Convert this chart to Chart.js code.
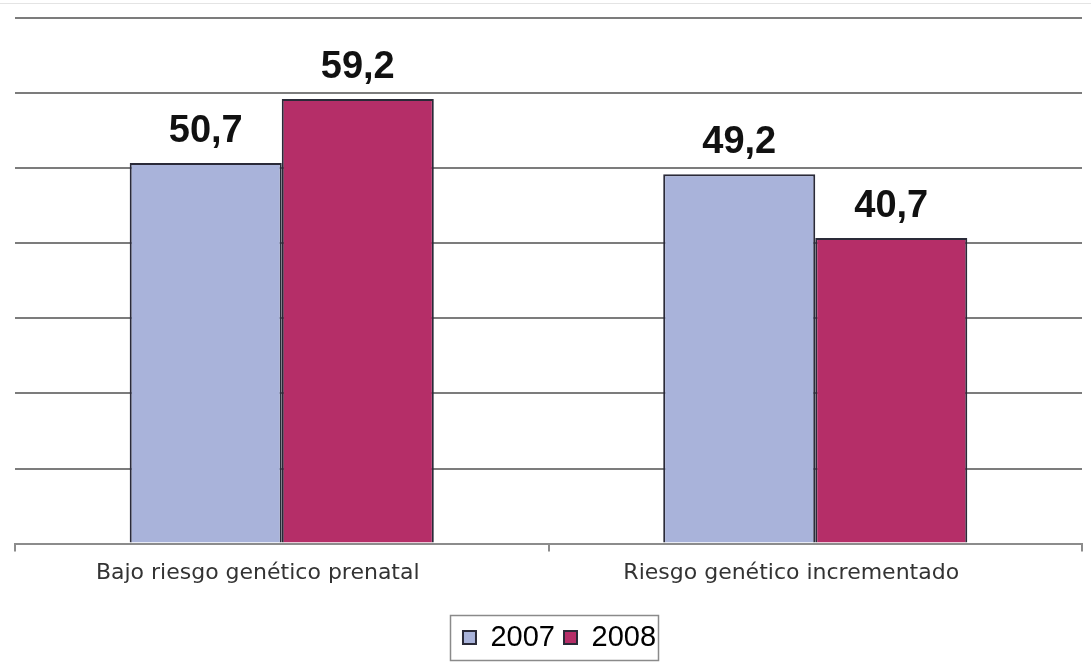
<!DOCTYPE html>
<html>
<head>
<meta charset="utf-8">
<script src="https://cdn.jsdelivr.net/npm/chart.js@4/dist/chart.umd.min.js"></script>
<style>
  html, body { margin: 0; padding: 0; background: #fff; }
  #wrap { position: relative; width: 1091px; height: 662px; }
  #topline { position: absolute; left: 0; top: 3px; width: 1091px; height: 1px; background: #e4e4e4; }
  canvas { display: block; }
</style>
</head>
<body>
<div id="wrap">
  <div id="topline"></div>
  <canvas id="chart" width="1091" height="662"></canvas>
</div>
<script>
// Categories and yearly values
const categories = ['Bajo riesgo genético prenatal', 'Riesgo genético incrementado'];
const years = ['2007', '2008'];
const values2007 = [50.7, 49.2];
const values2008 = [59.2, 40.7];
const yTicks = [0, 10, 20, 30, 40, 50, 60, 70];

const fillColors = ['#a9b3da', '#b52e68'];

// Writes each bar's value above it, with a decimal comma
const valueLabels = {
  id: 'valueLabels',
  afterDatasetsDraw(chart) {
    const ctx = chart.ctx;
    ctx.save();
    ctx.font = 'bold 38px "Liberation Sans", Arial, sans-serif';
    ctx.fillStyle = '#111';
    ctx.textAlign = 'center';
    ctx.textBaseline = 'alphabetic';
    chart.data.datasets.forEach((ds, i) => {
      chart.getDatasetMeta(i).data.forEach((bar, j) => {
        const txt = ds.data[j].toFixed(1).replace('.', ',');
        ctx.fillText(txt, bar.x, bar.y - 21);
      });
    });
    ctx.restore();
  }
};

// Nudges the legend a little to the right and frames it
const legendFrame = {
  id: 'legendFrame',
  afterLayout(chart) {
    const lg = chart.legend;
    if (!lg) return;
    lg.left += 11;
    lg.right += 11;
  },
  afterDraw(chart) {
    const lg = chart.legend;
    if (!lg || !lg.legendHitBoxes.length) return;
    const boxes = lg.legendHitBoxes;
    const x0 = boxes[0].left - 13;
    const last = boxes[boxes.length - 1];
    const x1 = last.left + last.width + 2;
    const y0 = boxes[0].top - 8;
    const y1 = boxes[0].top + boxes[0].height + 8;
    const ctx = chart.ctx;
    ctx.save();
    ctx.strokeStyle = '#8a8a8a';
    ctx.lineWidth = 1.5;
    ctx.strokeRect(Math.round(x0) + 0.5, Math.round(y0) + 0.5, Math.round(x1 - x0), Math.round(y1 - y0));
    ctx.restore();
  }
};

new Chart(document.getElementById('chart'), {
  type: 'bar',
  data: {
    labels: categories,
    datasets: [
      { label: years[0], data: values2007, backgroundColor: fillColors[0], borderColor: '#2a2a38', borderWidth: 2, borderSkipped: 'bottom' },
      { label: years[1], data: values2008, backgroundColor: fillColors[1], borderColor: '#2a2a38', borderWidth: 2, borderSkipped: 'bottom' }
    ]
  },
  options: {
    responsive: false,
    animation: false,
    layout: { padding: { top: 18, left: 15, right: 9, bottom: 0 } },
    datasets: { bar: { categoryPercentage: 0.57, barPercentage: 1.0 } },
    scales: {
      x: {
        grid: { display: true, drawOnChartArea: false, drawTicks: true, tickLength: 8, color: '#8c8c8c', lineWidth: 2, offset: true },
        border: { display: true, color: '#8c8c8c', width: 2 },
        ticks: {
          color: '#333',
          font: { family: '"DejaVu Sans", Verdana, sans-serif', size: 22 },
          padding: 8,
          labelOffset: -24,
          maxRotation: 0
        },
        afterFit(scale) { scale.height += 20; }
      },
      y: {
        min: yTicks[0],
        max: yTicks[yTicks.length - 1],
        afterBuildTicks(scale) { scale.ticks = yTicks.map(v => ({ value: v })); },
        ticks: { display: false },
        grid: { color: '#7c7c7c', lineWidth: 2, drawTicks: false },
        border: { display: false }
      }
    },
    plugins: {
      legend: {
        position: 'bottom',
        labels: {
          color: '#333',
          font: { family: '"Liberation Sans", Arial, sans-serif', size: 29 },
          boxWidth: 13,
          boxHeight: 13,
          padding: 9,
          generateLabels(chart) {
            return chart.data.datasets.map((ds, i) => ({
              text: ds.label,
              fillStyle: ds.backgroundColor,
              strokeStyle: '#2a2a38',
              lineWidth: 2,
              datasetIndex: i
            }));
          }
        }
      },
      tooltip: { enabled: false }
    }
  },
  plugins: [valueLabels, legendFrame]
});
</script>
</body>
</html>
